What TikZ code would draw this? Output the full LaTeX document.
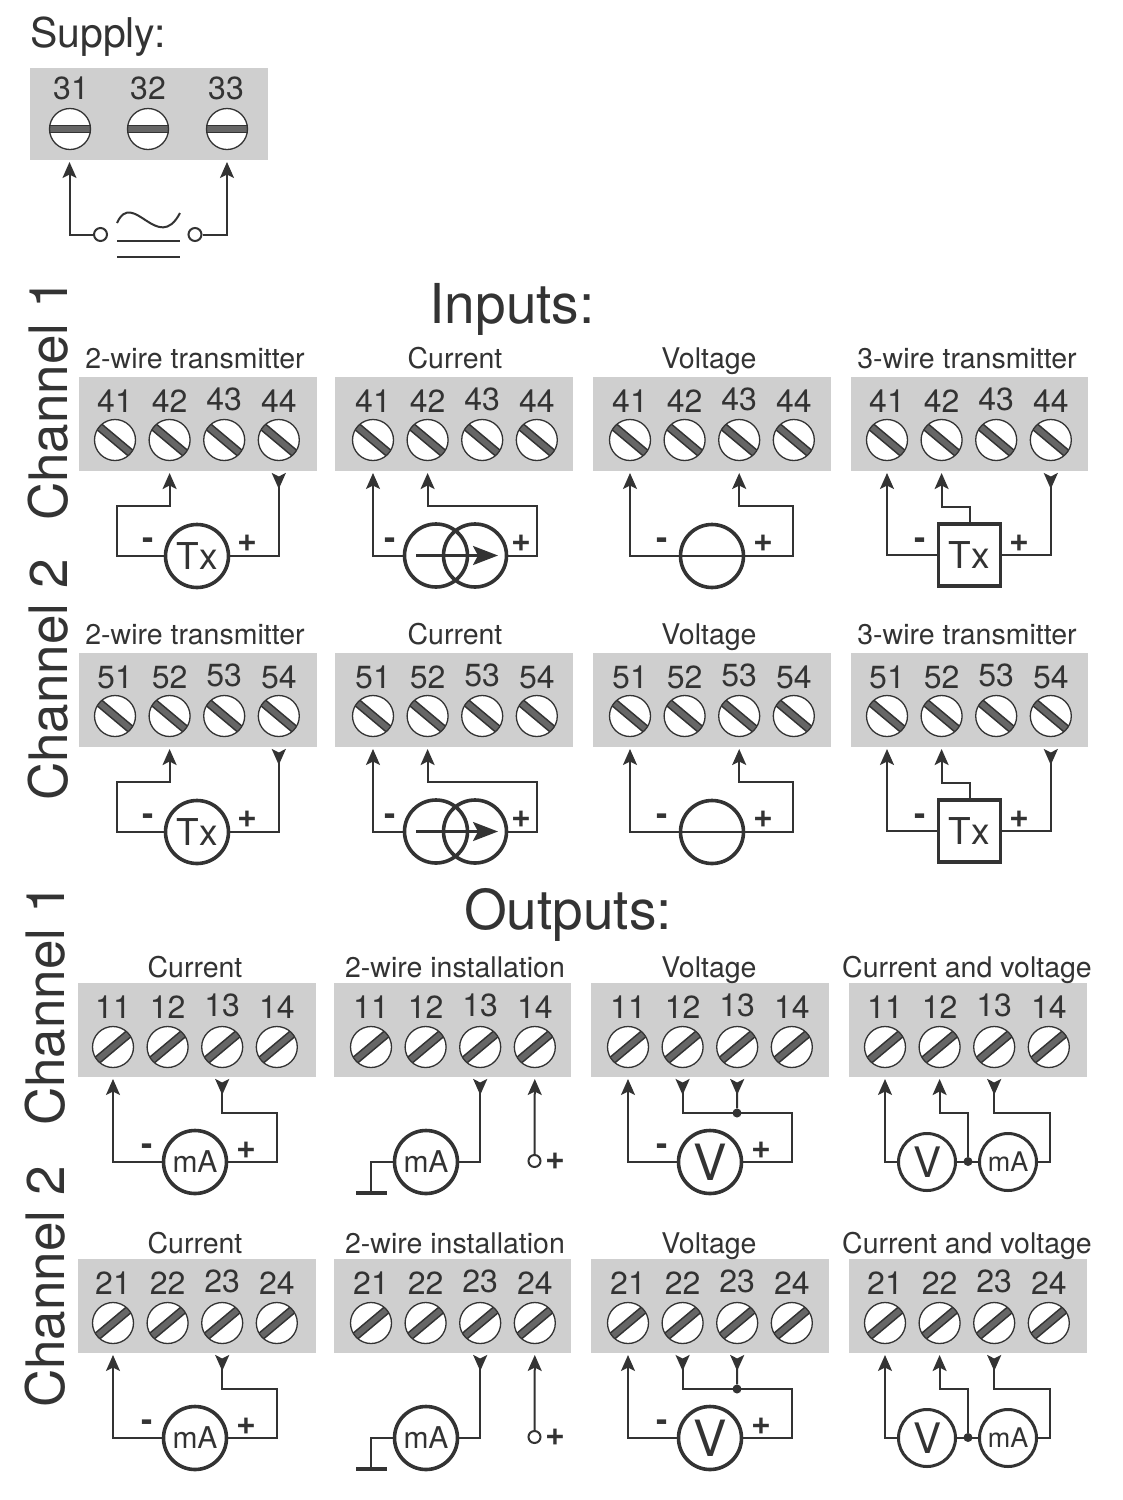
\documentclass[tikz,border=0pt]{standalone}
\usepackage{fontspec}
\setmainfont{TeX Gyre Heros}
\usetikzlibrary{arrows.meta}
\definecolor{ink}{HTML}{333333}
\definecolor{panelgrey}{HTML}{CFCFCF}
\definecolor{slotgrey}{HTML}{666666}
\newcommand\fsz[1]{\fontsize{#1}{#1}\selectfont}
\def\titledy{9}
\def\screwdy{63}
\tikzset{
  panelbox/.style={fill=panelgrey,draw=none,minimum width=237.5pt,minimum height=94pt,inner sep=0pt,outer sep=0pt},
  screw/.style={circle,draw=ink,fill=white,line width=1.3pt,minimum size=41pt,inner sep=0pt,
    path picture={\begin{scope}[shift={(path picture bounding box.center)}]
      \draw[ink,line width=8.8pt] ({-30*cos(#1)},{30*sin(#1)}) -- ({30*cos(#1)},{-30*sin(#1)});
      \draw[slotgrey,line width=5.6pt] ({-30*cos(#1)},{30*sin(#1)}) -- ({30*cos(#1)},{-30*sin(#1)});
      \end{scope}}},
  numlabel/.style={text=ink,font=\fsz{32},inner sep=0pt},
  titlelabel/.style={text=ink,font=\fsz{28.5},inner sep=0pt,anchor=base},
  headlabel/.style={text=ink,font=\fsz{55},inner sep=0pt},
  chanlabel/.style={text=ink,font=\fsz{53},inner sep=0pt,rotate=90},
  sign/.style={text=ink,font=\bfseries\fsz{34},inner sep=0pt},
  wire/.style={draw=ink,line width=2pt},
  tipout/.style={-{Stealth[length=16pt,width=14pt,inset=3.5pt]}},
  tipin/.style={{Stealth[reversed,length=16pt,width=14pt,inset=3.5pt]}-},
  meter/.style={circle,draw=ink,line width=3.6pt,fill=none,minimum size=63pt,inner sep=0pt,outer sep=0pt,text=ink},
  smallmeter/.style={meter,minimum size=57pt,line width=3pt},
  txbox/.style={draw=ink,line width=3.6pt,minimum size=62pt,inner sep=0pt,outer sep=0pt,text=ink},
  opencirc/.style={circle,draw=ink,fill=white,line width=2pt,minimum size=12pt,inner sep=0pt},
  junction/.style={circle,fill=ink,minimum size=9pt,inner sep=0pt},
}
% name, x0, ytop, first-screw offset, tens digit, slot angle, title, title x
\newcommand\Panel[8]{%
  \node[panelbox] (#1) at ({#2+118.75},{#3+47}) {};
  \node[titlelabel] (#1-title) at (#8,{#3-\titledy}) {#7};
  \foreach \i in {1,2,3,4}{%
    \node[numlabel] (#1-n\i) at ({#2+#4+54.6*(\i-1)},{#3+24-(\i==3)*1.5}) {#5\i};
    \node[screw=#6] (#1-s\i) at ({#2+#4+54.6*(\i-1)},{#3+\screwdy}) {};
    \coordinate (#1-\i) at ({#2+#4+54.6*(\i-1)},{#3+96});
  }%
}
\newcommand\InRow[3]{%
\begin{scope}[shift={(0,#2)}]
  \def\titledy{9}\def\screwdy{63}%
  \Panel{#1a}{79}{377}{36}{#3}{-40}{2-wire transmitter}{195}
  \Panel{#1b}{335}{377}{38}{#3}{-40}{Current}{455}
  \Panel{#1c}{593}{377}{37}{#3}{-40}{Voltage}{709}
  \Panel{#1d}{850.5}{377}{36.5}{#3}{-40}{3-wire transmitter}{967}
  % 2-wire transmitter
  \node[meter,font=\fsz{37}] (#1txa) at (197,556) {Tx};
  \coordinate (#1a-b1) at (117,506);
  \draw[wire,tipout] (#1txa.west) -| (#1a-b1) -| (#1a-2);
  \draw[wire,tipin] (#1a-4) |- (#1txa.east);
  \node[sign] (#1a-minus) at (148,544) {-};
  \node[sign] (#1a-plus) at (247,543) {+};
  % current source
  \node[meter] (#1csa) at (436,555.5) {};
  \node[meter] (#1csb) at (475,555.5) {};
  \coordinate (#1b-b1) at (537,506);
  \coordinate (#1b-aa) at (416,555.5);
  \coordinate (#1b-ab) at (498,555.5);
  \draw[wire,tipout] (#1csa.west) -| (#1b-1);
  \draw[wire,tipout] (#1csb.east) -| (#1b-b1) -| (#1b-2);
  \draw[wire,line width=2.6pt,-{Stealth[length=25pt,width=19pt,inset=5pt]}] (#1b-aa) -- (#1b-ab);
  \node[sign] (#1b-minus) at (390,544) {-};
  \node[sign] (#1b-plus) at (521,543) {+};
  % voltage source
  \node[meter] (#1vs) at (712,556) {};
  \coordinate (#1c-b1) at (793,506);
  \draw[wire,tipout] (#1vs.west) -| (#1c-1);
  \draw[wire,tipout] (#1vs.east) -| (#1c-b1) -| (#1c-3);
  \draw[wire,line width=2.8pt] (#1vs.west) -- (#1vs.east);
  \node[sign] (#1c-minus) at (662,544) {-};
  \node[sign] (#1c-plus) at (763,543) {+};
  % 3-wire transmitter
  \node[txbox,font=\fsz{37}] (#1txb) at (969.5,555) {Tx};
  \coordinate (#1d-b1) at (969.5,507);
  \draw[wire,tipout] (#1txb.west) -| (#1d-1);
  \draw[wire,tipout] (#1txb.north) -- (#1d-b1) -| (#1d-2);
  \draw[wire,tipin] (#1d-4) |- (#1txb.east);
  \node[sign] (#1d-minus) at (920,544) {-};
  \node[sign] (#1d-plus) at (1019,543) {+};
\end{scope}}
\newcommand\OutRow[3]{%
\begin{scope}[shift={(0,#2)}]
  \def\titledy{6}\def\screwdy{64}%
  \Panel{#1a}{78}{983}{35}{#3}{40}{Current}{195}
  \Panel{#1b}{333.5}{983}{37.5}{#3}{40}{2-wire installation}{455}
  \Panel{#1c}{591}{983}{37}{#3}{40}{Voltage}{709}
  \Panel{#1d}{849}{983}{36}{#3}{40}{Current and voltage}{967}
  % current
  \node[meter,font=\fsz{30}] (#1ma) at (195,1162) {mA};
  \coordinate (#1a-b1) at (277,1113);
  \draw[wire,tipout] (#1ma.west) -| (#1a-1);
  \draw[wire,tipin] (#1a-3) |- (#1a-b1) |- (#1ma.east);
  \node[sign] (#1a-minus) at (147,1150) {-};
  \node[sign] (#1a-plus) at (246,1150) {+};
  % 2-wire installation
  \node[meter,font=\fsz{30}] (#1mb) at (426,1162) {mA};
  \coordinate (#1b-g) at (371,1193);
  \coordinate (#1b-gl) at (356,1193);
  \coordinate (#1b-gr) at (387,1193);
  \node[opencirc] (#1b-o) at (534.5,1161) {};
  \draw[wire] (#1mb.west) -| (#1b-g);
  \draw[wire,line width=3.6pt] (#1b-gl) -- (#1b-gr);
  \draw[wire,tipin] (#1b-3) |- (#1mb.east);
  \draw[wire,tipout] (#1b-o) -- (#1b-4);
  \node[sign] (#1b-plus) at (555,1161) {+};
  % voltage
  \node[meter,font=\fsz{50}] (#1vm) at (710,1162) {V};
  \coordinate (#1c-b1) at (792,1113);
  \node[junction] (#1c-j) at (737,1113) {};
  \draw[wire,tipout] (#1vm.west) -| (#1c-1);
  \draw[wire,tipin] (#1c-2) |- (#1c-b1) |- (#1vm.east);
  \draw[wire,tipin] (#1c-3) -- (#1c-j);
  \node[sign] (#1c-minus) at (662,1150) {-};
  \node[sign] (#1c-plus) at (761,1150) {+};
  % current and voltage
  \node[smallmeter,font=\fsz{42}] (#1vd) at (927,1162) {V};
  \node[smallmeter,font=\fsz{27}] (#1md) at (1008,1162) {mA};
  \node[junction] (#1d-j) at (968,1161.5) {};
  \coordinate (#1d-b1) at (968,1113);
  \coordinate (#1d-b2) at (1050,1113);
  \draw[wire,tipout] (#1vd.west) -| (#1d-1);
  \draw[wire] (#1vd.east) -- (#1md.west);
  \draw[wire,tipout] (#1d-j) -- (#1d-b1) -| (#1d-2);
  \draw[wire,tipin] (#1d-3) |- (#1d-b2) |- (#1md.east);
\end{scope}}
\begin{document}
\begin{tikzpicture}[x=1pt,y=-1pt]
\useasboundingbox[fill=white] (0,0) rectangle (1123,1500);
% supply
\node[text=ink,font=\fsz{41},inner sep=0pt,anchor=base west] (supply) at (30,47) {Supply:};
\node[panelbox,minimum width=238pt,minimum height=92pt] (sup) at (149,114) {};
\node[numlabel] (sn1) at (71,88) {31};
\node[numlabel] (sn2) at (148,88) {32};
\node[numlabel] (sn3) at (226,88) {33};
\node[screw=0] (ss1) at (70,129) {};
\node[screw=0] (ss2) at (148,129) {};
\node[screw=0] (ss3) at (227,129) {};
\coordinate (st1) at (69.5,162);
\coordinate (st3) at (227,162);
\node[opencirc,minimum size=13pt] (so1) at (100.5,234.5) {};
\node[opencirc,minimum size=13pt] (so2) at (195,234.5) {};
\draw[wire,tipout] (so1) -| (st1);
\draw[wire,tipout] (so2) -| (st3);
\draw[wire] (117,223) .. controls (133,188) and (158,255) .. (180,213);
\draw[wire] (117,241) -- (180,241);
\draw[wire] (117,257) -- (180,257);
% headings
\node[headlabel] (inputs) at (512,309) {Inputs:};
\node[headlabel] (outputs) at (568,915) {Outputs:};
\node[chanlabel] (c1) at (48,400) {Channel 1};
\node[chanlabel] (c2) at (48,680) {Channel 2};
\node[chanlabel] (c3) at (45,1005) {Channel 1};
\node[chanlabel] (c4) at (45,1287) {Channel 2};
\InRow{r}{0}{4}
\InRow{s}{276}{5}
\OutRow{t}{0}{1}
\OutRow{u}{276}{2}
\end{tikzpicture}
\end{document}
